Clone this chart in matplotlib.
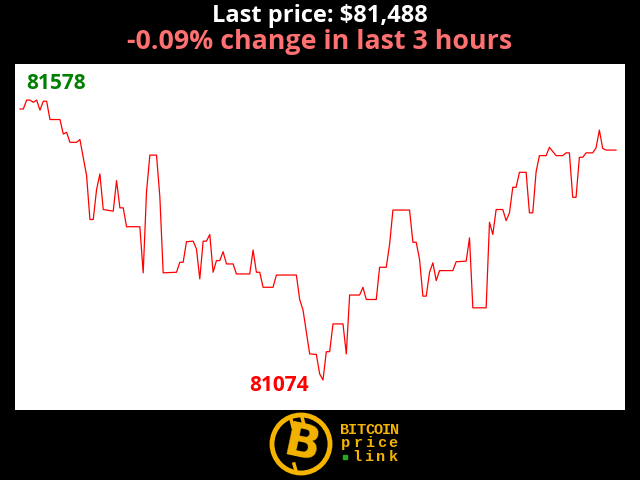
import matplotlib
matplotlib.use("Agg")
import matplotlib.pyplot as plt
from matplotlib.patches import Circle, Rectangle

# minutes since start of the 3 hour window and the price at each turn of the line
minutes = [0, 1, 2, 3, 4, 5, 6, 7, 8, 9, 12, 13, 14, 15, 17, 18, 20, 21, 22, 23,
           24, 25, 27, 28, 29, 30, 31, 32, 36, 37, 38, 39, 41, 42, 43, 47, 48, 49, 50, 52,
           53, 54, 55, 56, 57, 58, 59, 60, 61, 62, 64, 65, 69, 70, 71, 72, 73, 76, 77, 83,
           84, 85, 87, 89, 90, 91, 92, 93, 94, 97, 98, 99, 102, 103, 104, 107, 108, 110, 111, 112,
           117, 118, 119, 120, 121, 122, 123, 124, 125, 126, 130, 131, 134, 135, 136, 140, 141, 142, 143, 145,
           146, 147, 148, 149, 150, 152, 153, 154, 155, 156, 158, 159, 161, 163, 164, 165, 166, 167, 168, 169,
           170, 172, 173, 174, 175, 176, 179]
prices = [81562, 81562, 81578, 81578, 81574, 81578, 81560, 81576, 81576, 81543, 81543, 81517, 81520, 81502, 81502, 81507, 81442, 81363, 81363, 81417,
          81445, 81381, 81379, 81378, 81433, 81384, 81384, 81350, 81350, 81267, 81413, 81479, 81479, 81404, 81267, 81268, 81286, 81286, 81323, 81324,
          81310, 81256, 81324, 81324, 81336, 81268, 81289, 81289, 81305, 81283, 81283, 81265, 81265, 81308, 81268, 81268, 81241, 81241, 81263, 81263,
          81219, 81200, 81121, 81120, 81085, 81074, 81125, 81125, 81175, 81175, 81121, 81227, 81227, 81241, 81219, 81219, 81277, 81277, 81318, 81380,
          81380, 81322, 81322, 81291, 81225, 81225, 81268, 81285, 81253, 81271, 81271, 81287, 81288, 81330, 81204, 81204, 81358, 81336, 81381, 81381,
          81361, 81375, 81421, 81421, 81448, 81448, 81375, 81375, 81449, 81478, 81478, 81493, 81478, 81478, 81483, 81483, 81403, 81403, 81475, 81475,
          81483, 81483, 81492, 81524, 81491, 81488, 81488]

last_price = prices[-1]
change_pct = (prices[-1] - prices[0]) / prices[0] * 100
hi = max(prices)
lo = min(prices)
i_hi = prices.index(hi)
i_lo = prices.index(lo)

fig = plt.figure(figsize=(6.4, 4.8), dpi=100, facecolor="black")

fig.text(0.5, 1 - 16 / 480, f"Last price: ${last_price:,}", color="white",
         fontsize=17, fontweight="bold", family="Open Sans", ha="center", va="center")
fig.text(0.5, 1 - 42 / 480, f"{change_pct:.2f}% change in last 3 hours", color="#ff7070",
         fontsize=19.3, fontweight="bold", family="Open Sans", ha="center", va="center")

ax = fig.add_axes([15 / 640, 70 / 480, 610 / 640, 346 / 480])
ax.set_facecolor("white")
ax.plot(minutes, prices, color="red", linewidth=0.9)
ax.set_xlim(-1.5, 181.7)
ax.set_ylim(81020, 81643)
ax.set_xticks([])
ax.set_yticks([])
for s in ax.spines.values():
    s.set_visible(False)

ax.annotate(str(hi), (minutes[i_hi], hi), xytext=(0, 6), textcoords="offset pixels",
            color="green", fontsize=15, fontweight="bold", family="Open Sans",
            ha="left", va="bottom")
ax.annotate(str(lo), (minutes[i_lo], lo), xytext=(-14, 5), textcoords="offset pixels",
            color="red", fontsize=15, fontweight="bold", family="Open Sans",
            ha="right", va="top")

# logo, drawn in pixel coordinates on an overlay
lg = fig.add_axes([0, 0, 1, 1], facecolor="none")
lg.set_xlim(0, 640)
lg.set_ylim(480, 0)
lg.set_axis_off()
gold = "#f4b400"
lg.add_patch(Circle((301, 444), 29, facecolor="black", edgecolor=gold, linewidth=3.5))
lg.text(302, 446, "B", color=gold, fontsize=34, fontweight="heavy", family="DejaVu Sans",
        ha="center", va="center", rotation=-12)
lg.plot([291, 293], [419, 427], color=gold, linewidth=2.5)
lg.plot([302, 304], [417, 425], color=gold, linewidth=2.5)
lg.plot([294, 296], [464, 471], color=gold, linewidth=2.5)

words = ["BITCOIN", "price", "link"]
rows = [430, 443, 457]
lefts = [340, 340, 351]
for word, yy, x0 in zip(words, rows, lefts):
    step = (399 - x0) / len(word)
    for k, ch in enumerate(word):
        lg.text(x0 + step * (k + 0.5), yy, ch, color=gold, fontsize=11, fontweight="bold",
                family="Liberation Mono", ha="center", va="center")
lg.add_patch(Rectangle((343, 455), 4, 4, color="#22aa22"))

fig.savefig("out.png", dpi=100, facecolor="black")
